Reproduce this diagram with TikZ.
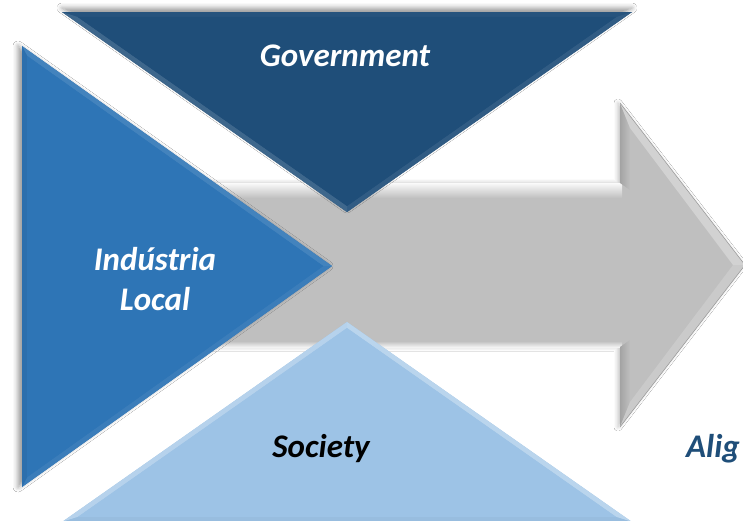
\documentclass[tikz,border=0pt]{standalone}
\usepackage{fontspec}
\setmainfont{Carlito}
\usetikzlibrary{calc,shadows.blur}
\definecolor{govblue}{HTML}{1F4E79}
\definecolor{indblue}{HTML}{2E75B6}
\definecolor{socblue}{HTML}{9DC3E6}
\definecolor{arrowgray}{HTML}{BFBFBF}
\tikzset{
  lbl/.style={font=\fontsize{33}{40}\selectfont\bfseries\itshape, inner sep=0pt, anchor=base},
}
% bevelled triangle: #1,#2,#3 vertex names, #4 incenter name, #5 fraction, #6..#9 colours
\newcommand{\bevtri}[9]{%
  \coordinate (#1i) at ($(#1)!#5!(#4)$);
  \coordinate (#2i) at ($(#2)!#5!(#4)$);
  \coordinate (#3i) at ($(#3)!#5!(#4)$);
  \fill[#6] (#1) -- (#2) -- (#2i) -- (#1i) -- cycle;
  \fill[#7] (#2) -- (#3) -- (#3i) -- (#2i) -- cycle;
  \fill[#8] (#3) -- (#1) -- (#1i) -- (#3i) -- cycle;
  \fill[#9] (#1i) -- (#2i) -- (#3i) -- cycle;
}
\begin{document}
\begin{tikzpicture}[x=1pt,y=-1pt]
\fill[white] (0,0) rectangle (743,520);
\useasboundingbox (0,0) rectangle (743,520);
\clip (0,0) rectangle (743,520);

% ---------- arrow ----------
\coordinate (bl) at (100,183);
\coordinate (bt) at (620,183);
\coordinate (ht) at (620,103);
\coordinate (tip) at (745,265);
\coordinate (hb) at (620,427);
\coordinate (bb) at (620,347);
\coordinate (bbl) at (100,347);
\fill[arrowgray, blur shadow={shadow xshift=-2pt, shadow yshift=0pt, shadow opacity=25, shadow blur radius=4pt}]
  (bl) -- (bt) -- (ht) -- (tip) -- (hb) -- (bb) -- (bbl) -- cycle;
% body highlight
\shade[top color=white!92!arrowgray, bottom color=arrowgray] (100,183) rectangle (622,198);
\shade[top color=arrowgray, bottom color=white!80!arrowgray] (100,341) rectangle (622,347);
% head facets
\shade[left color=black!36, right color=arrowgray] (ht) -- (630,128) -- (630,190) -- (bt) -- cycle;
\shade[left color=black!36, right color=arrowgray] (hb) -- (630,402) -- (630,340) -- (bb) -- cycle;
\fill[white!30!arrowgray] (ht) -- (tip) -- (733,265) -- (630,128) -- cycle;
\fill[white!18!arrowgray] (hb) -- (tip) -- (733,265) -- (630,402) -- cycle;
\draw[black!40, line width=0.5pt] (ht) -- (tip) -- (hb);

% ---------- Government (top) ----------
\coordinate (G1) at (62,12);
\coordinate (G2) at (632,12);
\coordinate (G3) at (347,212);
\coordinate (GI) at (347,102);
\fill[govblue, blur shadow={shadow xshift=0pt, shadow yshift=4pt, shadow opacity=40, shadow blur radius=5pt}] (G1) -- (G2) -- (G3) -- cycle;
\bevtri{G1}{G2}{G3}{GI}{0.055}{govblue!97!white}{govblue!92!white}{govblue!86!white}{govblue}

% ---------- Society (bottom) ----------
\coordinate (S1) at (62,522);
\coordinate (S2) at (347,322);
\coordinate (S3) at (632,522);
\coordinate (SI) at (347,432);
\fill[socblue] (S1) -- (S2) -- (S3) -- cycle;
\bevtri{S1}{S2}{S3}{SI}{0.055}{white!25!socblue}{white!30!socblue}{socblue!97!black}{socblue}

% ---------- Industria Local (left) ----------
\coordinate (L1) at (22,46);
\coordinate (L2) at (332,266);
\coordinate (L3) at (22,487);
\coordinate (LI) at (135.8,266.5);
\fill[indblue, blur shadow={shadow xshift=-4pt, shadow yshift=0pt, shadow opacity=40, shadow blur radius=5pt}] (L1) -- (L2) -- (L3) -- cycle;
\bevtri{L1}{L2}{L3}{LI}{0.045}{indblue!90!white}{indblue!94!white}{indblue!95!black}{indblue}

% ---------- labels ----------
\node[lbl, text=white] (gov) at (345,66) {Government};
\node[lbl, text=white] (ind1) at (155,270) {Indústria};
\node[lbl, text=white] (ind2) at (155,310) {Local};
\node[lbl, text=black] (soc) at (321,457) {Society};
\node[lbl, text=govblue, anchor=base west] (ali) at (686,457) {Alig};
\end{tikzpicture}
\end{document}
